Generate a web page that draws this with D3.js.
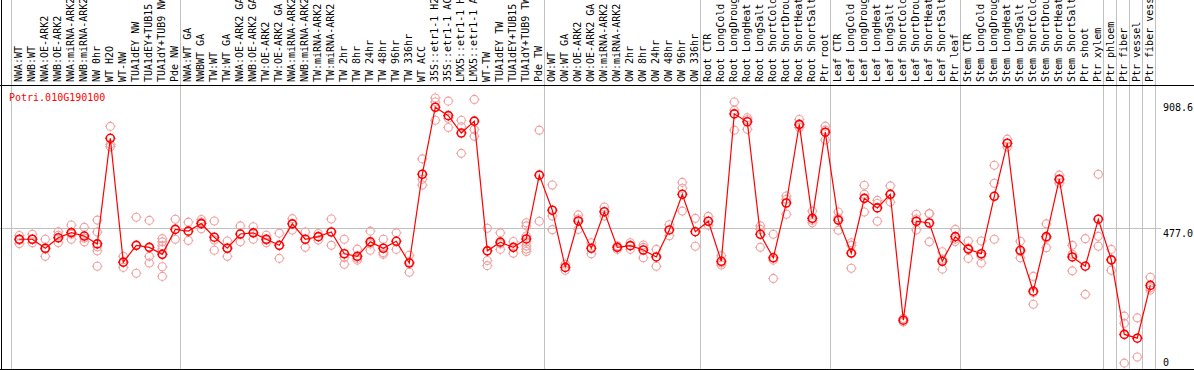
<!DOCTYPE html>
<html><head><meta charset="utf-8">
<script src="https://cdn.jsdelivr.net/npm/d3@7"></script>
<style>
body{margin:0;background:#fff}
svg{display:block}
text{font-family:"DejaVu Sans Mono",monospace;font-size:10px}
</style>
</head><body>
<svg id="c" width="1194" height="370"></svg>
<script>
const geneId = "Potri.010G190100";
const categories = [
"NWA:WT","NWB:WT","NWA:OE-ARK2","NWB:OE-ARK2","NWA:miRNA-ARK2","NWB:miRNA-ARK2","NW 0hr","WT H2O","WT-NW","TUA1dEY NW","TUA1dEY+TUB15 NW","TUA1dY+TUB9 NW","Pde NW",
"NWA:WT GA","NWBWT GA","TW:WT","TW:WT GA","NWA:OE-ARK2 GA","NWB:OE-ARK2 GA","TW:OE-ARK2","TW:OE-ARK2 GA","NWA:miRNA-ARK2 GA","NWB:miRNA-ARK2 GA","TW:miRNA-ARK2","TW:miRNA-ARK2 GA",
"TW 2hr","TW 8hr","TW 24hr","TW 48hr","TW 96hr","TW 336hr","WT ACC","35S::etr1-1 H2O","35S::etr1-1 ACC","LMX5::etr1-1 H2O","LMX5::etr1-1 ACC","WT-TW","TUA1dEY TW","TUA1dEY+TUB15 TW","TUA1dY+TUB9 TW","Pde TW",
"OW:WT","OW:WT GA","OW:OE-ARK2","OW:OE-ARK2 GA","OW:miRNA-ARK2","OW:miRNA-ARK2 GA","OW 2hr","OW 8hr","OW 24hr","OW 48hr","OW 96hr","OW 336hr",
"Root CTR","Root LongCold","Root LongDrought","Root LongHeat","Root LongSalt","Root ShortCold","Root ShortDrought","Root ShortHeat","Root ShortSalt","Ptr root",
"Leaf CTR","Leaf LongCold","Leaf LongDrought","Leaf LongHeat","Leaf LongSalt","Leaf ShortCold","Leaf ShortDrought","Leaf ShortHeat","Leaf ShortSalt","Ptr leaf",
"Stem CTR","Stem LongCold","Stem LongDrought","Stem LongHeat","Stem LongSalt","Stem ShortCold","Stem ShortDrought","Stem ShortHeat","Stem ShortSalt","Ptr shoot","Ptr xylem",
"Ptr phloem","Ptr fiber","Ptr vessel","Ptr fiber vessel"
];
const means = [
440,440,409,445,463,451,424,788,361,419,412,388,474,
468,494,447,409,458,462,440,419,493,440,449,465,
390,381,431,409,433,358,664,895,866,806,847,400,430,412,441,661,
540,343,503,409,535,412,418,403,379,472,595,466,
502,364,872,845,457,376,565,836,512,809,
506,392,581,548,595,161,502,496,364,449,
406,390,588,771,402,261,449,647,379,347,509,
369,112,99,281
];
const replicates = [
[453,437,425],[457,440,428],[440,406,381],[466,454,428],[489,457,440],[481,444,431],[506,465,414,400,347],[829,767,759],[381,360,343],[516,323],[505,381,358],[442,431,418,406,345,312],[509,440],
[499,436],[508,499,476],[503,437,402],[434,410,381],[486,431],[483,440],[454,437,428],[461,374],[511,472],[465,412],[460,437],[510,419],
[440,377,354],[406,374,368],[468,424,402],[440,394,388],[462,405],[385,362,326],[717,647,627],[927,913,850],[916,857,825],[850,828,736],[922,818,795],[478,367,349],[462,424,405],[432,392],[497,486,451,431,417,406,398],[816,502],
[627,520,473],[354,333],[524,510,474],[428,390],[551,520],[417,405],[428,405],[420,412,376],[405,347],[490,452],[636,616,537],[512,416],
[519,488],[383,358,351],[913,885,816],[859,852,819],[486,474,412],[457,368,305],[589,578,526],[853,832,825],[537,505,497],[830,816,782],
[534,513,471],[428,419,340],[626,595,534],[574,563,502],[624,593,568],[167,155],[526,510,472],[529,528,431],[397,371,337],[474,441,432],
[434,410,374],[434,382,358],[695,633,440],[785,770,758],[433,398,376],[312,256,216],[493,444,411],[661,644,634],[419,388,331],[442,250],[664,450,416],
[405,368,333],[175,150,13],[169,34],[309,273,265]
];
const yTicks = [908.6, 477.0, 0];
const gridValue = 477.0;
const groupEnds = [-1,12,40,52,62,72,83,84,85,86,87];

const W = 1194, H = 370, headerY = 85, bottomY = 369;
const svg = d3.select("#c");
const x = d3.scaleLinear().domain([0, categories.length - 1]).range([19.3, 19.3 + 13 * (categories.length - 1)]);
const y = d3.scaleLinear().domain([0, 908.6]).range([366.9, 103.3]);

svg.append("g").selectAll("line").data(groupEnds).join("line")
  .attr("x1", d => x(d) + 5).attr("x2", d => x(d) + 5)
  .attr("y1", 0).attr("y2", bottomY)
  .attr("stroke", "#c0c0c0").attr("stroke-width", 1).attr("shape-rendering","crispEdges");

svg.append("line").attr("x1", 0).attr("x2", 1161).attr("y1", y(gridValue)).attr("y2", y(gridValue))
  .attr("stroke", "#c0c0c0").attr("stroke-width", 1).attr("shape-rendering","crispEdges");

svg.append("line").attr("x1", 0).attr("x2", W).attr("y1", headerY).attr("y2", headerY).attr("stroke","#000").attr("shape-rendering","crispEdges");
svg.append("line").attr("x1", 0).attr("x2", W).attr("y1", bottomY).attr("y2", bottomY).attr("stroke","#000").attr("shape-rendering","crispEdges");
svg.append("line").attr("x1", 1.5).attr("x2", 1.5).attr("y1", 0).attr("y2", bottomY).attr("stroke","#000").attr("shape-rendering","crispEdges");

svg.append("g").selectAll("text").data(categories).join("text")
  .attr("transform", (d, i) => `translate(${x(i) + 3},82) rotate(-90)`)
  .attr("fill", "#000").text(d => d);

svg.append("g").selectAll("text").data(yTicks).join("text")
  .attr("x", 1163).attr("y", d => Math.min(y(d) + 8, 366))
  .attr("fill", "#000").text(d => d === 0 ? "0" : d.toFixed(1));

svg.append("text").attr("x", 9).attr("y", 101).attr("fill", "#ff0000").text(geneId);

function marker(g, cx, cy, color, sw) {
  const r = 4;
  g.append("circle").attr("cx", cx).attr("cy", cy).attr("r", r)
    .attr("fill", "none").attr("stroke", color).attr("stroke-width", sw);
  [[0,-1],[0,1],[-1,0],[1,0]].forEach(([dx,dy]) => {
    g.append("line").attr("x1", cx + dx*r).attr("y1", cy + dy*r)
      .attr("x2", cx + dx*(r+1.3)).attr("y2", cy + dy*(r+1.3))
      .attr("stroke", color).attr("stroke-width", 0.9);
  });
}

const rg = svg.append("g");
replicates.forEach((reps, i) => reps.forEach(v => marker(rg, x(i), y(v), "#f0a0a0", 1.1)));

svg.append("path").datum(means)
  .attr("d", d3.line().x((d, i) => x(i)).y(d => y(d)))
  .attr("fill", "none").attr("stroke", "#ff0000").attr("stroke-width", 1.2);

const mg = svg.append("g");
means.forEach((v, i) => marker(mg, x(i), y(v), "#ff0000", 1.6));
</script>
</body></html>
